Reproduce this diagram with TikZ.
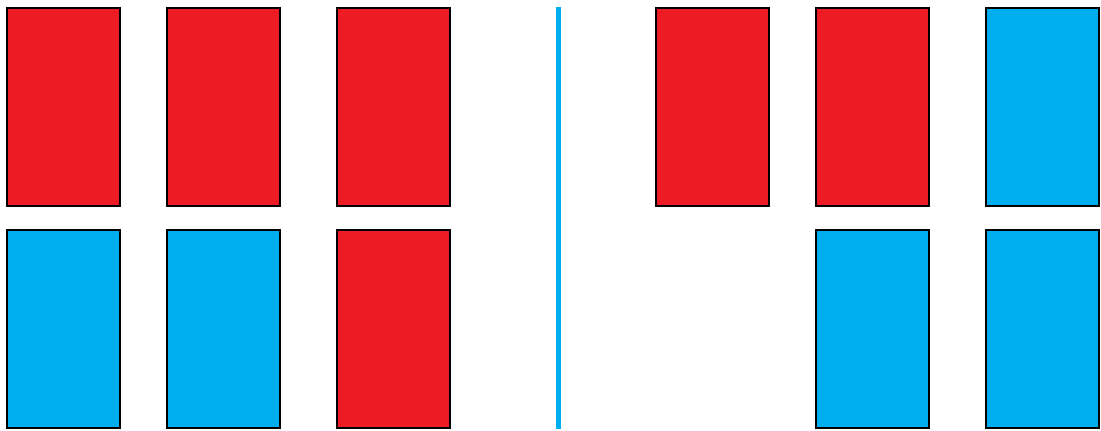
\documentclass[tikz,border=0pt]{standalone}
\definecolor{cred}{HTML}{ED1C24}
\definecolor{cblue}{HTML}{00AEEF}
\begin{document}
\begin{tikzpicture}[x=1pt,y=-1pt,
  card/.style={draw=black,line width=2pt,minimum width=113pt,minimum height=198pt,inner sep=0pt,outer sep=0pt},
  redcard/.style={card,fill=cred},
  bluecard/.style={card,fill=cblue}]
\useasboundingbox (0,0) rectangle (1101,431);
\node[redcard]  (a1) at (63.5,107) {};
\node[redcard]  (a2) at (223.5,107) {};
\node[redcard]  (a3) at (393.5,107) {};
\node[bluecard] (b1) at (63.5,329) {};
\node[bluecard] (b2) at (223.5,329) {};
\node[redcard]  (b3) at (393.5,329) {};
\node[redcard]  (a4) at (712.5,107) {};
\node[redcard]  (a5) at (872.5,107) {};
\node[bluecard] (a6) at (1042.5,107) {};
\node[bluecard] (b5) at (872.5,329) {};
\node[bluecard] (b6) at (1042.5,329) {};
\coordinate (top) at (558,7);
\coordinate (bot) at (558,429);
\draw[cblue,line width=5pt] (top) -- (bot);
\end{tikzpicture}
\end{document}
